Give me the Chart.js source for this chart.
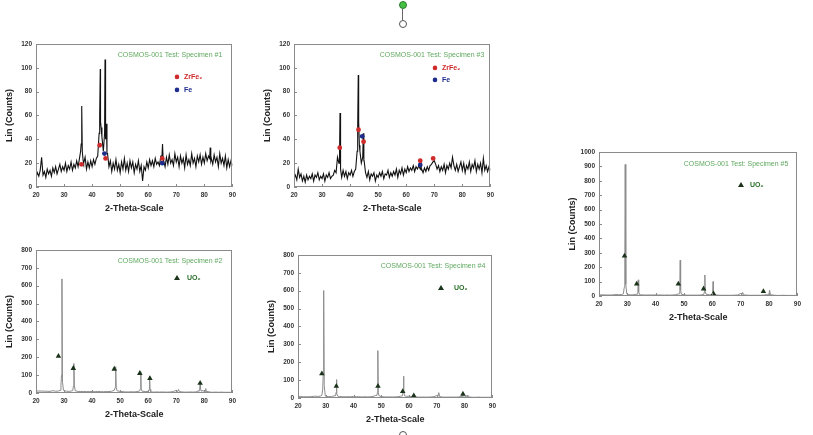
<!DOCTYPE html>
<html>
<head>
<meta charset="utf-8">
<script src="https://cdn.jsdelivr.net/npm/chart.js@4.4.1/dist/chart.umd.min.js"></script>
<style>
body{margin:0;background:#fff;width:813px;height:435px;overflow:hidden;position:relative;font-family:"Liberation Sans",Arial,sans-serif}
canvas{position:absolute}
.dot{position:absolute;width:6px;height:6px;border-radius:50%;border:1px solid #555}
</style>
</head>
<body>
<div class="dot" style="left:399px;top:1px;background:#44c044;border-color:#2c7c2c"></div>
<div style="position:absolute;left:402px;top:9px;width:1px;height:11px;background:#666"></div>
<div class="dot" style="left:399px;top:20px;background:#fff"></div>
<div class="dot" style="left:399px;top:431px;background:#fff"></div>

<canvas id="c1"></canvas>
<canvas id="c2"></canvas>
<canvas id="c3"></canvas>
<canvas id="c4"></canvas>
<canvas id="c5"></canvas>

<script>
// ---- data ----
// specimen #1 (ZrFe2 / Fe), background every 0.5 deg from 20
const s1Bg = [
  8,12,9,14,25,10,13,8,15,11,
  14,9,16,12,17,11,15,19,13,17,
  14,20,13,18,15,21,14,19,16,22,
  17,24,36,30,20,25,15,21,16,22,
  17,23,19,24,26,45,55,42,30,38,
  50,28,17,22,13,20,15,23,14,19,
  12,21,15,24,14,20,13,22,16,21,
  12,19,15,22,13,18,5,17,14,21,
  16,23,18,22,17,24,19,21,18,26,
  30,22,17,25,19,27,20,23,18,28,
  21,25,17,26,20,24,16,27,19,23,
  18,28,20,24,17,26,21,27,19,25,
  20,28,22,26,33,24,19,27,21,25,
  17,28,20,24,18,26,16,23,17,22,
  18];
const s1PeakTheta = [[35.9,36.1,36.3,36.5,36.8],[42.6,42.8,42.9,43.0,43.2],[44.2,44.45,44.6,44.8,45.1,45.3],[64.9,65.1,65.3],[81.9,82.1,82.3]];
const s1PeakCounts = [[30,36,68,30,22],[45,60,99,55,50],[30,45,107,40,53,28],[26,36,24],[24,33,22]];
const s1ZrTheta = [36.2,42.7,44.8,65];
const s1ZrCounts = [19,35,24,24];
const s1FeTheta = [44.4,65];
const s1FeCounts = [28,20];

// specimen #3 (ZrFe2 / Fe)
const s3Bg = [
  7,10,6,15,8,11,5,9,4,10,
  6,9,7,11,5,10,8,12,6,9,
  7,11,5,10,8,12,7,9,10,14,
  12,25,20,12,8,14,9,13,7,12,
  10,14,9,13,15,30,55,30,20,28,
  22,12,8,13,6,11,9,12,5,10,
  8,12,9,13,7,11,10,14,8,12,
  9,13,10,15,8,14,11,16,10,15,
  12,17,13,16,14,18,13,17,15,18,
  18,15,12,16,13,17,14,18,19,21,
  22,19,15,18,13,17,14,19,12,18,
  15,20,16,25,18,14,19,13,17,21,
  14,20,12,18,15,21,13,19,16,22,
  13,19,15,20,12,24,14,18,13,17,
  14];
const s3PeakTheta = [[36.2,36.4,36.6],[42.6,42.8,42.9,43.05,43.3],[44.5,44.7,44.9],[65.0,65.2,65.4]];
const s3PeakCounts = [[20,62,15],[30,50,94,55,35],[25,45,22],[15,23,14]];
const s3ZrTheta = [36.3,43,44.8,65,69.6];
const s3ZrCounts = [33,48,38,22,24];
const s3FeTheta = [44.3,65];
const s3FeCounts = [42.5,18.5];

// specimen #2 (UO2), background every 1 deg from 20
const s2Bg = [
  12,11,11,10,10,9,13,10,11,14,
  12,10,9,13,10,9,8,9,8,8,
  8,7,9,8,7,8,8,10,14,12,
  9,7,6,6,7,6,8,12,10,8,
  9,6,5,6,5,6,5,5,6,8,
  15,10,6,5,5,6,5,6,12,14,
  10,9,5,4,5,4,5,4,4,4,
  4];
const s2PeakTheta = [[28.6,28.9,29.1,29.25,29.45,29.8],[33.1,33.35,33.5,33.7,34.0],[47.9,48.2,48.4,48.6,48.9],[57.0,57.2,57.35,57.5,57.8],[60.1,60.35,60.5,60.65,60.9],[70.5,70.8,71.1],[78.1,78.35,78.5,78.65,78.9],[80.3,80.5,80.7]];
const s2PeakCounts = [[15,45,100,638,60,15],[15,40,165,40,12],[15,30,147,30,12],[12,25,120,25,10],[8,20,92,20,7],[8,20,8],[10,22,60,22,10],[8,25,8]];
const s2UoTheta = [28,33.3,47.9,57,60.6,78.5];
const s2UoCounts = [206,138,134,110,81,55];

// specimen #4 (UO2)
const s4Bg = [
  8,8,7,7,7,8,10,9,10,14,
  10,8,8,12,9,8,7,7,7,7,
  9,7,7,6,7,6,7,9,14,12,
  8,6,6,6,6,6,7,10,12,9,
  10,8,6,5,5,5,5,5,6,7,
  14,9,5,5,5,5,5,5,6,9,
  12,8,5,4,4,5,4,4,4,4,
  4];
const s4PeakTheta = [[28.6,28.9,29.1,29.25,29.45,29.8],[33.5,33.7,33.85,34.0,34.3],[48.4,48.6,48.75,48.9,49.2],[57.6,57.85,58.0,58.15,58.4],[61.4,61.7,62.0],[70.4,70.7,71.0],[80.6,80.9,81.2]];
const s4PeakCounts = [[15,50,140,601,70,15],[12,30,103,25,10],[14,30,265,30,12],[12,35,122,35,12],[8,20,8],[8,30,8],[7,15,6]];
const s4UoTheta = [28.6,33.8,48.8,57.7,61.7,79.4];
const s4UoCounts = [136,66,66,37,13,22];

// specimen #5 (UO2)
const s5Bg = [
  8,8,8,7,7,8,10,9,10,14,
  10,8,8,12,9,8,7,7,7,7,
  8,7,7,6,7,6,7,9,14,12,
  8,6,6,6,6,6,7,10,12,9,
  10,8,6,5,5,5,5,5,6,7,
  18,12,6,5,5,5,5,5,6,9,
  14,8,5,4,4,5,4,4,4,4,
  4];
const s5PeakTheta = [[28.6,28.9,29.1,29.25,29.45,29.8],[33.5,33.7,33.85,34.0,34.3],[48.3,48.5,48.65,48.8,49.1],[57.0,57.2,57.35,57.5,57.8],[59.9,60.1,60.25,60.4,60.7],[70.4,70.7,71.0],[79.9,80.2,80.5]];
const s5PeakCounts = [[15,60,200,913,80,15],[12,30,112,30,10],[14,40,248,40,12],[12,30,146,30,12],[8,20,100,20,7],[8,25,8],[8,40,8]];
const s5UoTheta = [29,33.3,48,56.9,60.4,78];
const s5UoCounts = [278,84,84,50,16,32];

const xTicks = [20,30,40,50,60,70,80,90];

// background grid + peak groups, sorted by angle
function trace(start, step, bg, pkTheta, pkCounts) {
  var pts = [];
  bg.forEach(function (v, i) {
    var x = start + i * step;
    var inside = pkTheta.some(function (g) { return x >= g[0] && x <= g[g.length - 1]; });
    if (!inside) pts.push({x: x, y: v});
  });
  pkTheta.forEach(function (g, k) {
    g.forEach(function (x, j) { pts.push({x: x, y: pkCounts[k][j]}); });
  });
  return pts.sort(function (a, b) { return a.x - b.x; });
}
function pairs(xs, ys) {
  return xs.map(function (x, i) { return {x: x, y: ys[i]}; });
}

const RED = '#cf2b2b', BLUE = '#1e2c8c', TRI = '#1b331b';
const FONT = '"Liberation Sans", Arial, sans-serif';

// frame, inner ticks, specimen caption and phase key
const panelPlugin = {
  id: 'panel',
  afterDraw: function (chart, args, opt) {
    var ctx = chart.ctx, a = chart.chartArea;
    ctx.save();
    ctx.strokeStyle = '#8a8a8a';
    ctx.lineWidth = 1;
    ctx.strokeRect(Math.round(a.left) + 0.5, Math.round(a.top) + 0.5,
      Math.round(a.right - a.left) - 1, Math.round(a.bottom - a.top) - 1);
    ctx.beginPath();
    chart.scales.x.ticks.forEach(function (t) {
      var px = Math.round(chart.scales.x.getPixelForValue(t.value)) + 0.5;
      ctx.moveTo(px, a.bottom); ctx.lineTo(px, a.bottom - 3);
    });
    chart.scales.y.ticks.forEach(function (t) {
      var py = Math.round(chart.scales.y.getPixelForValue(t.value)) + 0.5;
      ctx.moveTo(a.left, py); ctx.lineTo(a.left + 3, py);
    });
    ctx.stroke();

    ctx.fillStyle = '#5fa85f';
    ctx.font = '7px ' + FONT;
    ctx.textAlign = 'right';
    ctx.textBaseline = 'middle';
    ctx.fillText(opt.caption, a.right - opt.capDx, a.top + opt.capDy);

    ctx.textAlign = 'left';
    opt.key.forEach(function (k) {
      var gx = a.left + k.dx, gy = a.top + k.dy;
      ctx.fillStyle = k.color;
      ctx.beginPath();
      if (k.shape === 'tri') {
        ctx.moveTo(gx, gy - 3); ctx.lineTo(gx + 3, gy + 2.2); ctx.lineTo(gx - 3, gy + 2.2);
        ctx.closePath();
      } else {
        ctx.arc(gx, gy, 2.3, 0, Math.PI * 2);
      }
      ctx.fill();
      ctx.fillStyle = k.textColor;
      ctx.font = 'bold 7px ' + FONT;
      ctx.fillText(k.text, gx + k.gap, gy);
    });
    ctx.restore();
  }
};

function makePanel(id, box, ymax, ystep, traceData, lineColor, lineW, markers, panelOpt) {
  var yW = 32, xH = 27, padT = 6, padR = 6;
  var cv = document.getElementById(id);
  var left = box.L - yW, top = box.T - padT;
  var w = box.R - left + padR, h = box.B + xH - top;
  cv.style.left = left + 'px';
  cv.style.top = top + 'px';
  cv.width = w; cv.height = h;
  cv.style.width = w + 'px'; cv.style.height = h + 'px';

  var sets = markers.map(function (m) {
    return {data: m.data, pointStyle: m.style, pointRadius: m.r, backgroundColor: m.color,
      borderWidth: 0, showLine: false, order: 0};
  });
  sets.push({data: traceData, showLine: true, pointRadius: 0, borderColor: lineColor,
    borderWidth: lineW, tension: 0, order: 1});

  var tickFont = {family: FONT, size: 6.5, weight: 'bold'};
  var titleFont = {family: FONT, size: 9, weight: 'bold'};
  var plain = function (v) { return String(v); };
  return new Chart(cv, {
    type: 'scatter',
    data: {datasets: sets},
    plugins: [panelPlugin],
    options: {
      responsive: false,
      animation: false,
      events: [],
      layout: {padding: {left: 0, top: padT, right: padR, bottom: 0}},
      plugins: {legend: {display: false}, tooltip: {enabled: false}, panel: panelOpt},
      scales: {
        x: {
          type: 'linear', min: 20, max: 90,
          afterBuildTicks: function (s) { s.ticks = xTicks.map(function (v) { return {value: v}; }); },
          ticks: {font: tickFont, color: '#333', padding: 4, maxRotation: 0, callback: plain},
          grid: {display: false, drawTicks: false}, border: {display: false},
          title: {display: true, text: '2-Theta-Scale', font: titleFont, color: '#222', padding: 0},
          afterFit: function (s) { s.height = xH; }
        },
        y: {
          type: 'linear', min: 0, max: ymax,
          ticks: {stepSize: ystep, font: tickFont, color: '#333', padding: 4, callback: plain},
          grid: {display: false, drawTicks: false}, border: {display: false},
          title: {display: true, text: 'Lin (Counts)', font: titleFont, color: '#222', padding: 0},
          afterFit: function (s) { s.width = yW; }
        }
      }
    }
  });
}

function zrKey(dyRed, dyBlue) {
  return [
    {shape: 'circle', color: RED, text: 'ZrFe\u2082', textColor: RED, dx: 141, dy: dyRed, gap: 7},
    {shape: 'circle', color: BLUE, text: 'Fe', textColor: BLUE, dx: 141, dy: dyBlue, gap: 7}
  ];
}
function uoKey(dx, dy, gap) {
  return [{shape: 'tri', color: TRI, text: 'UO\u2082', textColor: '#2a6e2a', dx: dx, dy: dy, gap: gap}];
}

makePanel('c1', {L: 36, T: 42, R: 234, B: 187}, 120, 20,
  trace(20, 0.5, s1Bg, s1PeakTheta, s1PeakCounts), '#111', 1.1,
  [{data: pairs(s1ZrTheta, s1ZrCounts), style: 'circle', r: 2.4, color: RED},
   {data: pairs(s1FeTheta, s1FeCounts), style: 'circle', r: 2.4, color: BLUE}],
  {caption: 'COSMOS-001 Test: Specimen #1', capDx: 10, capDy: 11, key: zrKey(33, 46)});

makePanel('c3', {L: 294, T: 42, R: 492, B: 187}, 120, 20,
  trace(20, 0.5, s3Bg, s3PeakTheta, s3PeakCounts), '#111', 1.1,
  [{data: pairs(s3ZrTheta, s3ZrCounts), style: 'circle', r: 2.4, color: RED},
   {data: pairs(s3FeTheta, s3FeCounts), style: 'circle', r: 2.4, color: BLUE}],
  {caption: 'COSMOS-001 Test: Specimen #3', capDx: 6, capDy: 11, key: zrKey(24, 36)});

makePanel('c2', {L: 36, T: 248, R: 234, B: 393}, 800, 100,
  trace(20, 1, s2Bg, s2PeakTheta, s2PeakCounts), '#8c8c8c', 1,
  [{data: pairs(s2UoTheta, s2UoCounts), style: 'triangle', r: 3.2, color: TRI}],
  {caption: 'COSMOS-001 Test: Specimen #2', capDx: 10, capDy: 11, key: uoKey(141, 28, 10)});

makePanel('c4', {L: 298, T: 253, R: 494, B: 398}, 800, 100,
  trace(20, 1, s4Bg, s4PeakTheta, s4PeakCounts), '#8c8c8c', 1,
  [{data: pairs(s4UoTheta, s4UoCounts), style: 'triangle', r: 3.2, color: TRI}],
  {caption: 'COSMOS-001 Test: Specimen #4', capDx: 7, capDy: 11, key: uoKey(143, 33, 13)});

makePanel('c5', {L: 599, T: 150, R: 799, B: 296}, 1000, 100,
  trace(20, 1, s5Bg, s5PeakTheta, s5PeakCounts), '#8c8c8c', 1,
  [{data: pairs(s5UoTheta, s5UoCounts), style: 'triangle', r: 3.2, color: TRI}],
  {caption: 'COSMOS-001 Test: Specimen #5', capDx: 9, capDy: 12, key: uoKey(142, 33, 9)});
</script>
</body>
</html>
